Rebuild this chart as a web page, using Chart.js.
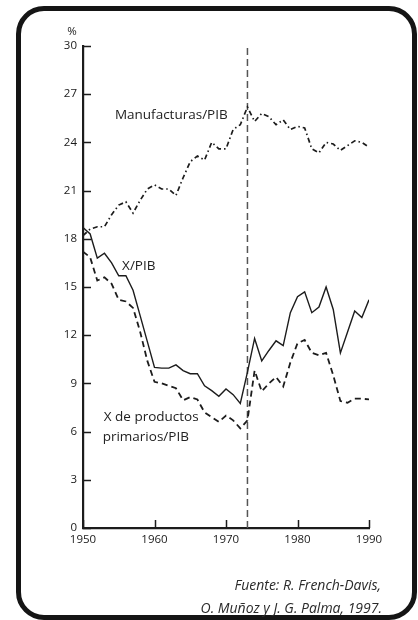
<!DOCTYPE html>
<html>
<head>
<meta charset="utf-8">
<script src="https://cdn.jsdelivr.net/npm/chart.js@4.4.1/dist/chart.umd.min.js"></script>
<style>
  html, body { margin: 0; padding: 0; background: #fff; }
  #wrap { position: relative; width: 418px; height: 620px; overflow: hidden; }
  #frame {
    position: absolute; left: 16px; top: 6px; width: 401px; height: 614px;
    box-sizing: border-box; border: 5px solid #151515; border-radius: 28px;
  }
  #graph { position: absolute; left: 0; top: 0; }
  .src {
    position: absolute; font-family: "Open Sans", sans-serif;
    font-style: italic; font-size: 14px; line-height: 19px;
    color: #2a2a2a; white-space: nowrap;
  }
</style>
</head>
<body>
<div id="wrap">
  <div id="frame"></div>
  <canvas id="graph" width="418" height="620"></canvas>
  <div class="src" style="top: 575px; right: 37px;">Fuente: R. French-Davis,</div>
  <div class="src" style="top: 598px; right: 36px;">O. Muñoz y J. G. Palma, 1997.</div>
</div>
<script>
const years = [1950, 1951, 1952, 1953, 1954, 1955, 1956, 1957, 1958, 1959,
               1960, 1961, 1962, 1963, 1964, 1965, 1966, 1967, 1968, 1969,
               1970, 1971, 1972, 1973, 1974, 1975, 1976, 1977, 1978, 1979,
               1980, 1981, 1982, 1983, 1984, 1985, 1986, 1987, 1988, 1989, 1990];

// Manufacturas/PIB
const manufacturas = [18.2, 18.6, 18.75, 18.75, 19.5, 20.1, 20.3, 19.6, 20.4, 21.1,
                      21.35, 21.1, 21.1, 20.7, 21.8, 22.8, 23.15, 22.9, 24.0, 23.6,
                      23.6, 24.8, 25.1, 26.2, 25.3, 25.8, 25.6, 25.1, 25.4, 24.8,
                      25.0, 24.9, 23.6, 23.35, 24.0, 23.9, 23.5, 23.8, 24.1, 24.0, 23.7];

// X/PIB
const exportaciones = [18.7, 18.3, 16.8, 17.1, 16.5, 15.7, 15.7, 14.8, 13.2, 11.6,
                       10.0, 9.95, 9.95, 10.15, 9.8, 9.6, 9.6, 8.85, 8.55, 8.2,
                       8.65, 8.3, 7.75, 9.7, 11.8, 10.4, 11.05, 11.65, 11.35, 13.4,
                       14.4, 14.7, 13.4, 13.75, 15.0, 13.6, 10.9, 12.2, 13.5, 13.1, 14.2];

// X de productos primarios/PIB
const primarios = [17.2, 16.85, 15.4, 15.6, 15.2, 14.2, 14.1, 13.7, 12.2, 10.4,
                   9.1, 9.0, 8.85, 8.7, 7.95, 8.15, 8.0, 7.2, 6.9, 6.6,
                   7.0, 6.7, 6.2, 6.7, 9.8, 8.5, 9.0, 9.4, 8.8, 10.3,
                   11.5, 11.7, 10.9, 10.75, 10.9, 9.5, 7.9, 7.8, 8.05, 8.05, 8.0];

const corte = 1973;            // vertical reference year
const yTicks = [0, 3, 6, 9, 12, 15, 18, 21, 24, 27, 30];
const xTicks = [1950, 1960, 1970, 1980, 1990];

const ink = '#1c1c1c';
const font = '"Open Sans", sans-serif';

const pts = arr => arr.map((v, i) => ({ x: years[i], y: v }));

// inward tick marks, the % unit and the series captions
const extras = {
  id: 'extras',
  afterDatasetsDraw(chart) {
    const { ctx, chartArea: a } = chart;
    const xs = chart.scales.x, ys = chart.scales.y;
    ctx.save();
    ctx.strokeStyle = ink;
    ctx.lineWidth = 1.5;
    ctx.beginPath();
    yTicks.forEach(t => {
      const py = Math.round(ys.getPixelForValue(t)) + 0.5;
      ctx.moveTo(a.left, py);
      ctx.lineTo(a.left + 8, py);
    });
    xTicks.forEach(t => {
      const px = Math.round(xs.getPixelForValue(t)) + 0.5;
      ctx.moveTo(px, a.bottom);
      ctx.lineTo(px, a.bottom - 8);
    });
    ctx.stroke();

    ctx.fillStyle = '#222';
    ctx.font = '11.5px ' + font;
    ctx.textAlign = 'center';
    ctx.textBaseline = 'middle';
    ctx.fillText('%', a.left - 11, ys.getPixelForValue(30) - 14);

    ctx.font = '13.5px ' + font;
    ctx.fillText('Manufacturas/PIB', xs.getPixelForValue(1962.35), ys.getPixelForValue(25.7));
    ctx.fillText('X/PIB', xs.getPixelForValue(1957.8), ys.getPixelForValue(16.3));
    ctx.textAlign = 'left';
    ctx.fillText('X de productos', xs.getPixelForValue(1952.9), ys.getPixelForValue(6.9));
    ctx.fillText('primarios/PIB', xs.getPixelForValue(1952.75), ys.getPixelForValue(5.65));
    ctx.restore();
  }
};

const config = {
  type: 'line',
  data: {
    datasets: [
      {
        label: 'Manufacturas/PIB',
        data: pts(manufacturas),
        borderColor: ink,
        borderWidth: 1.7,
        borderDash: [5, 3, 1.5, 3],
      },
      {
        label: 'X/PIB',
        data: pts(exportaciones),
        borderColor: ink,
        borderWidth: 1.4,
      },
      {
        label: 'X de productos primarios/PIB',
        data: pts(primarios),
        borderColor: ink,
        borderWidth: 1.8,
        borderDash: [6, 4],
      },
      {
        label: '1973',
        data: [{ x: corte, y: 0 }, { x: corte, y: 30 }],
        borderColor: '#555',
        borderWidth: 1.5,
        borderDash: [7, 4],
      }
    ]
  },
  options: {
    responsive: false,
    animation: false,
    events: [],
    elements: {
      point: { radius: 0 },
      line: { tension: 0, fill: false }
    },
    layout: { padding: { top: 46, right: 49, bottom: 62, left: 0 } },
    scales: {
      x: {
        type: 'linear',
        min: 1950,
        max: 1990,
        afterFit(scale) { scale.height = 30; },
        grid: { display: false, drawTicks: false },
        border: { color: ink, width: 2.2 },
        ticks: {
          stepSize: 10,
          padding: 5,
          color: '#1a1a1a',
          font: { family: font, size: 11.5 },
          callback: v => String(v)
        }
      },
      y: {
        min: 0,
        max: 30,
        afterFit(scale) { scale.width = 83; },
        grid: { display: false, drawTicks: false },
        border: { color: ink, width: 2.2 },
        ticks: {
          stepSize: 3,
          padding: 6,
          color: '#1a1a1a',
          font: { family: font, size: 11.5 }
        }
      }
    },
    plugins: {
      legend: { display: false },
      tooltip: { enabled: false }
    }
  },
  plugins: [extras]
};

const chart = new Chart(document.getElementById('graph'), config);
</script>
</body>
</html>
